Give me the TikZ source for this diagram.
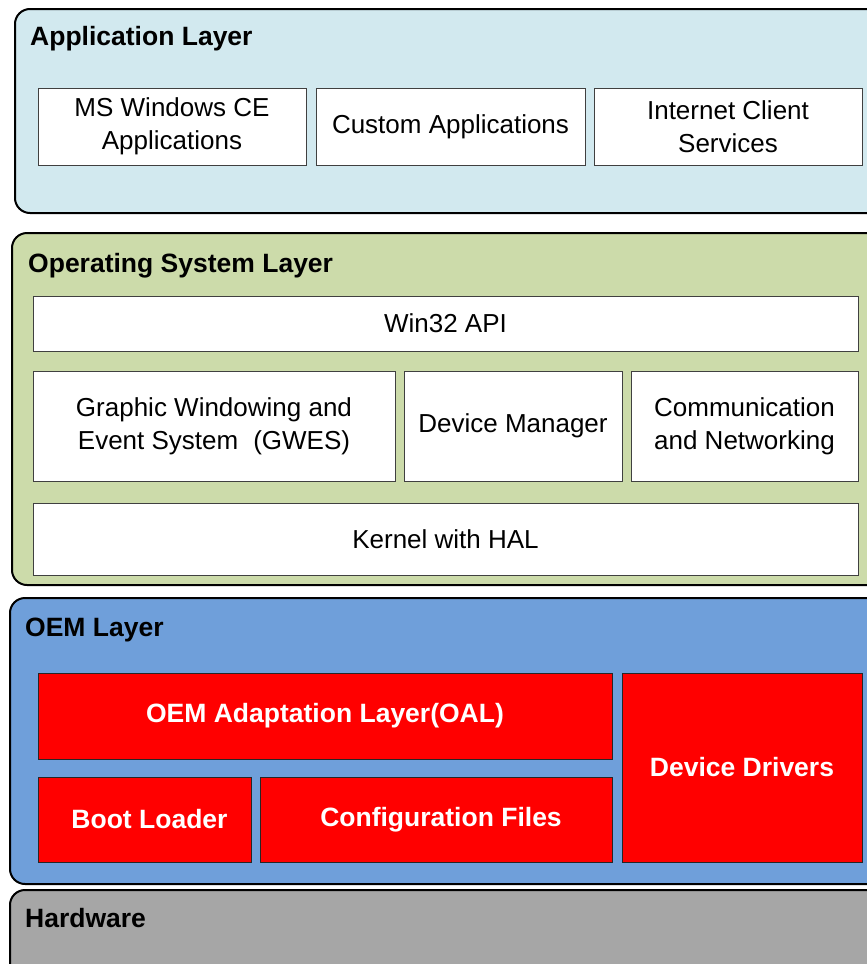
\documentclass[tikz,border=0pt]{standalone}
\usepackage{fontspec}
\setmainfont{Liberation Sans}
\definecolor{appblue}{RGB}{210,233,239}
\definecolor{osgreen}{RGB}{204,219,170}
\definecolor{oemblue}{RGB}{111,159,218}
\definecolor{hwgray}{RGB}{166,166,166}
\definecolor{oemred}{RGB}{255,0,0}
\begin{document}
\begin{tikzpicture}[x=1pt,y=-1pt,
  panel/.style={draw=black, line width=2pt, rounded corners=15pt},
  wbox/.style={draw=black!75, line width=1pt, fill=white, font=\fontsize{26}{33}\selectfont, align=center, inner sep=0pt},
  rbox/.style={draw=black!85, line width=1pt, fill=oemred, text=white, font=\fontsize{26.5}{33}\selectfont\bfseries, align=center, inner sep=0pt},
  title/.style={anchor=base west, inner sep=0pt, font=\fontsize{26.5}{33}\selectfont\bfseries}]
\useasboundingbox (0,0) rectangle (867,964);
\clip (0,0) rectangle (867,964);
% panels
\draw[panel, fill=appblue] (15,9) rectangle (900,213);
\draw[panel, fill=osgreen] (12,233) rectangle (900,585);
\draw[panel, fill=oemblue] (10,598) rectangle (900,884);
\draw[panel, fill=hwgray] (10,890) rectangle (900,1000);
% titles
\node[title] (tapp) at (30,45) {Application Layer};
\node[title] (tos) at (28,272) {Operating System Layer};
\node[title] (toem) at (25,636) {OEM Layer};
\node[title] (thw) at (25,927) {Hardware};
% application layer
\node[wbox, minimum width=268, minimum height=77] (ms) at (172,126.5) {MS Windows CE\\Applications};
\node[wbox, minimum width=269, minimum height=77] (custom) at (450.5,126.5) {Custom Applications};
\node[wbox, minimum width=268, minimum height=77] (inet) at (728,126.5) {Internet Client\\Services};
% OS layer
\node[wbox, minimum width=825, minimum height=55] (win32) at (445.5,323.5) {Win32 API};
\node[wbox, minimum width=362, minimum height=110] (gwes) at (214,426) {Graphic Windowing and\\Event System\hspace{0.3em} (GWES)};
\node[wbox, minimum width=218, minimum height=110] (devmgr) at (513,426) {Device Manager};
\node[wbox, minimum width=227, minimum height=110] (comm) at (744.5,426) {Communication\\and Networking};
\node[wbox, minimum width=825, minimum height=72] (kernel) at (445.5,539) {Kernel with HAL};
% OEM layer
\node[rbox, minimum width=574, minimum height=86] (oal) at (325,716) {OEM Adaptation Layer(OAL)};
\node[rbox, minimum width=240, minimum height=189] (drivers) at (742,767.5) {Device Drivers};
\node[rbox, minimum width=213, minimum height=85] (boot) at (144.5,819.5) {\hspace{10pt}Boot Loader};
\node[rbox, minimum width=352, minimum height=85] (config) at (436,819.5) {\hspace{10pt}Configuration Files};
\end{tikzpicture}
\end{document}
